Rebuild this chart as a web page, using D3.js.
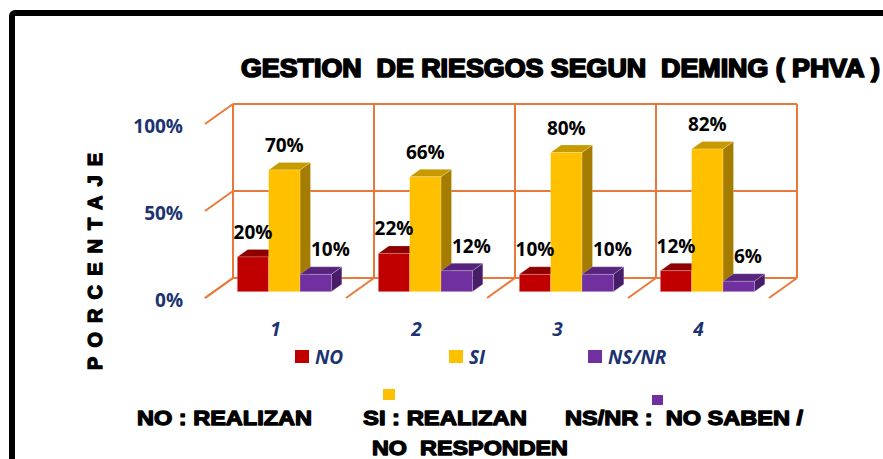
<!DOCTYPE html>
<html lang="es">
<head>
<meta charset="utf-8">
<title>Gestion de riesgos segun Deming</title>
<script src="https://d3js.org/d3.v7.min.js"></script>
<style>
  body { margin: 0; background: #fff; }
  svg { display: block; }
  .heavy { font-family: "Liberation Sans", Arial, sans-serif; font-weight: bold; fill: #000; stroke: #000; stroke-linejoin: round; white-space: pre; }
  .lbl { font-family: "Open Sans", sans-serif; font-weight: 700; }
</style>
</head>
<body>
<div id="chart"></div>
<script>
// data
var categories = ["1", "2", "3", "4"];
var seriesNames = ["NO", "SI", "NS/NR"];
var noValues = [20, 22, 10, 12];
var siValues = [70, 66, 80, 82];
var nsnrValues = [10, 12, 10, 6];
var yTicks = [0, 50, 100];

var W = 883, H = 459;

var front = ["#C00000", "#FFC000", "#7030A0"],
    topC  = ["#8E0000", "#C79A00", "#56247D"],
    sideC = ["#780000", "#A37C00", "#471C69"];
var gridColor = "#E8793A", navy = "#1B3370";

var svg = d3.select("#chart").append("svg")
    .attr("width", W).attr("height", H);

// outer frame
svg.append("rect")
    .attr("x", 12).attr("y", 13).attr("width", 920).attr("height", 520)
    .attr("rx", 3)
    .attr("fill", "none").attr("stroke", "#000").attr("stroke-width", 6);

// title
svg.append("text").attr("class", "heavy")
    .attr("x", 241).attr("y", 77)
    .attr("font-size", 25).attr("stroke-width", 1.7)
    .attr("textLength", 639).attr("lengthAdjust", "spacingAndGlyphs")
    .text("GESTION  DE RIESGOS SEGUN  DEMING ( PHVA )");

// scales (back wall) + depth offsets
var x0 = d3.scaleBand().domain(categories).range([233, 797]);
var x1 = d3.scaleBand().domain(seriesNames).range([0, x0.bandwidth()]).paddingOuter(0.75);
var y = d3.scaleLinear().domain([0, 100]).range([278, 104]);

var depthX = -28, depthY = 20;       // wall -> front floor
var barF = 0.685;                    // depth of bar front face
var barDX = 10.5, barDY = -7.5;      // bar front -> bar back

// grid / walls
var grid = svg.append("g").attr("stroke", gridColor).attr("stroke-width", 2).attr("fill", "none");
yTicks.forEach(function(t) {
  grid.append("line").attr("x1", 233).attr("x2", 797).attr("y1", y(t)).attr("y2", y(t));
  grid.append("line").attr("x1", 233).attr("x2", 233 + depthX).attr("y1", y(t)).attr("y2", y(t) + depthY);
});
var bounds = categories.map(function(c) { return x0(c); }).concat([x0.range()[1]]);
bounds.forEach(function(bx) {
  grid.append("line").attr("x1", bx).attr("x2", bx).attr("y1", y(0)).attr("y2", y(100));
  grid.append("line").attr("x1", bx).attr("x2", bx + depthX).attr("y1", y(0)).attr("y2", y(0) + depthY);
});

// y tick labels
svg.append("g").selectAll("text").data(yTicks).enter().append("text")
    .attr("class", "lbl")
    .attr("x", 183).attr("y", function(d) { return y(d) + depthY + 8.5; })
    .attr("text-anchor", "end").attr("font-size", 19).attr("fill", navy)
    .text(function(d) { return d + "%"; });

// x category labels
svg.append("g").selectAll("text").data(categories).enter().append("text")
    .attr("class", "lbl")
    .attr("x", function(d) { return x0(d) + x0.bandwidth() / 2 + depthX; })
    .attr("y", 336)
    .attr("text-anchor", "middle").attr("font-size", 19).attr("font-style", "italic").attr("fill", navy)
    .text(function(d) { return d; });

// bars
var allSeries = [noValues, siValues, nsnrValues];
var bars = [];
categories.forEach(function(c, ci) {
  seriesNames.forEach(function(s, si) {
    bars.push({ cat: c, si: si, v: allSeries[si][ci] });
  });
});

var fx = depthX * barF, fy = depthY * barF;
var gBars = svg.append("g");
bars.forEach(function(d) {
  var xl = x0(d.cat) + x1(seriesNames[d.si]) + fx,
      xr = xl + x1.bandwidth(),
      yt = y(d.v) + fy,
      yb = y(0) + fy;
  var g = gBars.append("g").attr("stroke", "rgba(255,255,255,0.35)").attr("stroke-width", 0.6);
  g.append("polygon").attr("fill", sideC[d.si])
    .attr("points", [[xr, yt], [xr + barDX, yt + barDY], [xr + barDX, yb + barDY], [xr, yb]].join(" "));
  g.append("polygon").attr("fill", topC[d.si])
    .attr("points", [[xl, yt], [xr, yt], [xr + barDX, yt + barDY], [xl + barDX, yt + barDY]].join(" "));
  g.append("rect").attr("fill", front[d.si])
    .attr("x", xl).attr("y", yt).attr("width", xr - xl).attr("height", yb - yt);
  d.xl = xl; d.xr = xr; d.yt = yt;
});

// value labels
svg.append("g").selectAll("text").data(bars).enter().append("text")
    .attr("class", "lbl")
    .attr("x", function(d) { return d.si === 2 ? d.xl + 11 : (d.xl + d.xr) / 2; })
    .attr("y", function(d) { return d.yt - 18; })
    .attr("text-anchor", function(d) { return d.si === 2 ? "start" : "middle"; })
    .attr("font-size", 19).attr("fill", "#000")
    .text(function(d) { return d.v + "%"; });

// y axis title
svg.append("text").attr("class", "heavy")
    .attr("transform", "translate(102,261.5) rotate(-90)")
    .attr("text-anchor", "middle")
    .attr("font-size", 20).attr("stroke-width", 1.3)
    .attr("textLength", 217).attr("lengthAdjust", "spacing")
    .text("PORCENTAJE");

// legend
var legendX = [295, 449, 588];
var leg = svg.append("g").selectAll("g").data(seriesNames).enter().append("g")
    .attr("transform", function(d, i) { return "translate(" + legendX[i] + ",350)"; });
leg.append("rect").attr("width", 14).attr("height", 13)
    .attr("fill", function(d, i) { return front[i]; });
leg.append("text").attr("class", "lbl")
    .attr("x", 20).attr("y", 14)
    .attr("font-size", 19).attr("font-style", "italic").attr("fill", navy)
    .text(function(d) { return d; });

// stray markers below legend
svg.append("rect").attr("x", 383).attr("y", 389).attr("width", 12).attr("height", 11).attr("fill", front[1]);
svg.append("rect").attr("x", 652).attr("y", 395).attr("width", 11).attr("height", 10).attr("fill", front[2]);

// footnote
var notes = [
  { t: "NO : REALIZAN", x: 137, y: 425, w: 175 },
  { t: "SI : REALIZAN", x: 363, y: 425, w: 164 },
  { t: "NS/NR :  NO SABEN /", x: 565, y: 425, w: 238 },
  { t: "NO  RESPONDEN", x: 372, y: 455, w: 196 }
];
svg.append("g").selectAll("text").data(notes).enter().append("text")
    .attr("class", "heavy")
    .attr("x", function(d) { return d.x; }).attr("y", function(d) { return d.y; })
    .attr("font-size", 21).attr("stroke-width", 1.3)
    .attr("textLength", function(d) { return d.w; }).attr("lengthAdjust", "spacingAndGlyphs")
    .text(function(d) { return d.t; });
</script>
</body>
</html>
